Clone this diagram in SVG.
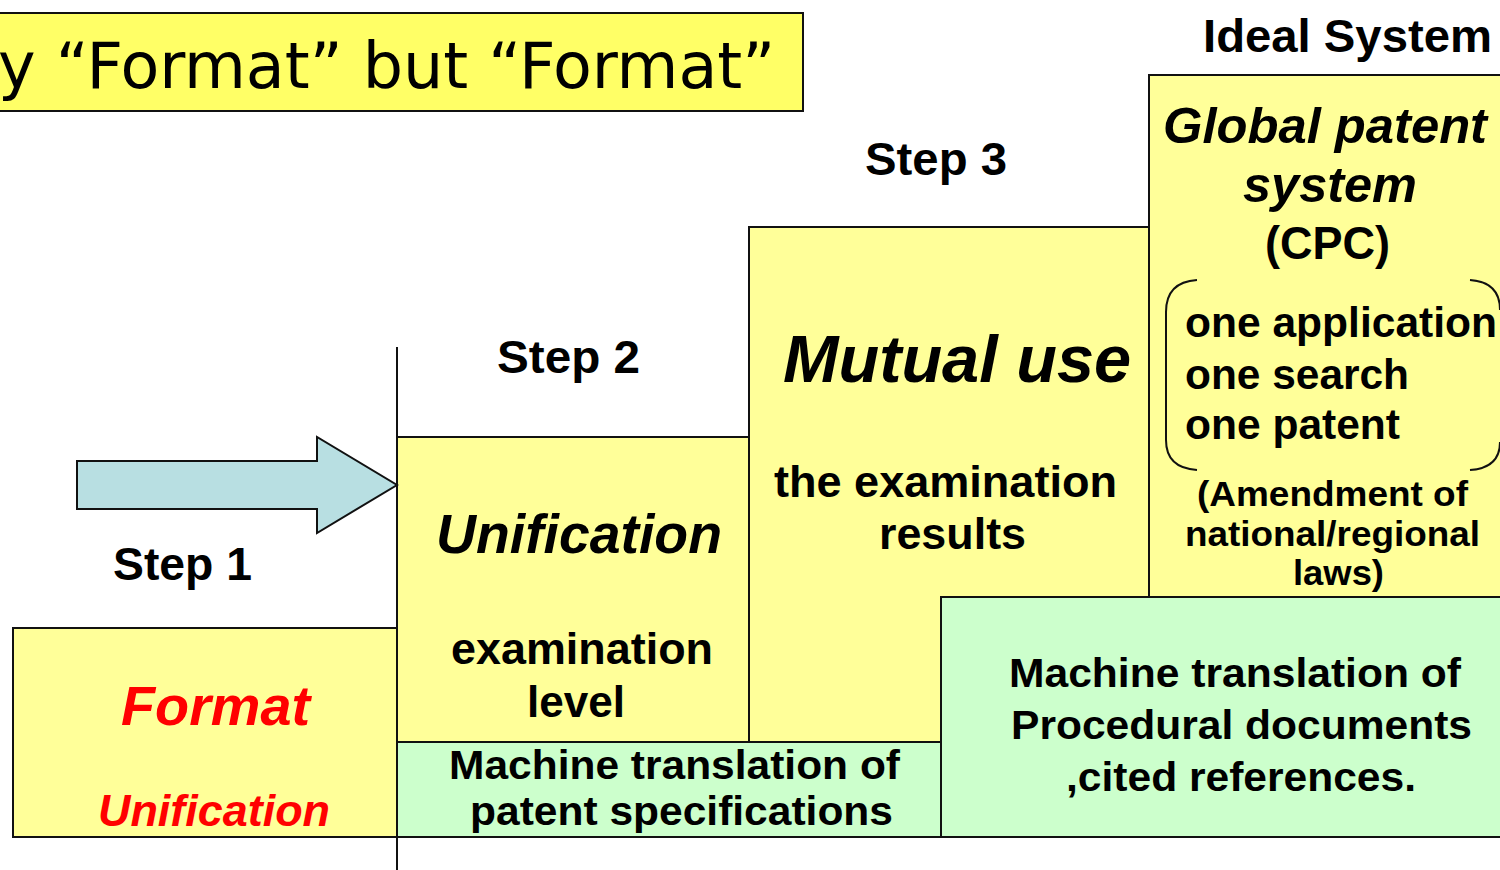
<svg xmlns="http://www.w3.org/2000/svg" width="1500" height="870" viewBox="0 0 1500 870">
<style>
.box{stroke:#111;stroke-width:2}
.y{fill:#FFFF99}
.g{fill:#CCFFCC}
.t{font-family:"Liberation Sans",Arial,sans-serif;font-weight:bold;fill:#000}
.i{font-style:italic}
.r{fill:#FF0000}
</style>
<rect width="1500" height="870" fill="#fff"/>
<g id="title">
<rect x="-5" y="13" width="808" height="98" fill="#FFFF66" class="box"/>
<text x="-2" y="88" font-family="'Liberation Sans Narrow','DejaVu Sans Condensed','Liberation Sans',sans-serif" font-size="64" textLength="777" lengthAdjust="spacingAndGlyphs">y “Format” but “Format”</text>
</g>
<g id="ideal">
<text class="t" x="1203" y="52" font-size="47" textLength="289" lengthAdjust="spacingAndGlyphs">Ideal System</text>
<rect x="1149" y="75" width="360" height="522" class="box y"/>
<text class="t i" x="1163" y="143" font-size="50" textLength="324" lengthAdjust="spacingAndGlyphs">Global patent</text>
<text class="t i" x="1243" y="202" font-size="50" textLength="174" lengthAdjust="spacingAndGlyphs">system</text>
<text class="t" x="1265" y="259" font-size="46" textLength="125" lengthAdjust="spacingAndGlyphs">(CPC)</text>
<path d="M1197,280 Q1166,282 1166,312 L1166,440 Q1166,468 1197,470 M1470,280 Q1500,282 1500,310 M1500,442 Q1500,468 1470,470" fill="none" stroke="#111" stroke-width="2"/>
<text class="t" x="1185" y="337" font-size="42.5" textLength="312" lengthAdjust="spacingAndGlyphs">one application</text>
<text class="t" x="1185" y="389" font-size="42.5" textLength="224" lengthAdjust="spacingAndGlyphs">one search</text>
<text class="t" x="1185" y="439" font-size="42.5" textLength="215" lengthAdjust="spacingAndGlyphs">one patent</text>
<text class="t" x="1197" y="506" font-size="35" textLength="271" lengthAdjust="spacingAndGlyphs">(Amendment of</text>
<text class="t" x="1185" y="546" font-size="35" textLength="295" lengthAdjust="spacingAndGlyphs">national/regional</text>
<text class="t" x="1293" y="585" font-size="35" textLength="91" lengthAdjust="spacingAndGlyphs">laws)</text>
</g>
<g id="step3">
<text class="t" x="865" y="175" font-size="46" textLength="142" lengthAdjust="spacingAndGlyphs">Step 3</text>
<rect x="749" y="227" width="400" height="515" class="box y"/>
<text class="t i" x="783" y="382" font-size="66" textLength="348" lengthAdjust="spacingAndGlyphs">Mutual use</text>
<text class="t" x="774" y="497" font-size="44" textLength="343" lengthAdjust="spacingAndGlyphs">the examination</text>
<text class="t" x="879" y="549" font-size="44" textLength="147" lengthAdjust="spacingAndGlyphs">results</text>
</g>
<g id="step2">
<text class="t" x="497" y="373" font-size="46" textLength="143" lengthAdjust="spacingAndGlyphs">Step 2</text>
<rect x="397" y="437" width="352" height="305" class="box y"/>
<text class="t i" x="436" y="553" font-size="55" textLength="286" lengthAdjust="spacingAndGlyphs">Unification</text>
<text class="t" x="451" y="664" font-size="44.5" textLength="262" lengthAdjust="spacingAndGlyphs">examination</text>
<text class="t" x="527" y="717" font-size="44.5" textLength="98" lengthAdjust="spacingAndGlyphs">level</text>
</g>
<g id="mt1">
<rect x="397" y="742" width="544" height="95" class="box g"/>
<text class="t" x="449" y="779" font-size="41" textLength="451" lengthAdjust="spacingAndGlyphs">Machine translation of</text>
<text class="t" x="470" y="825" font-size="41" textLength="423" lengthAdjust="spacingAndGlyphs">patent specifications</text>
</g>
<g id="mt2">
<rect x="941" y="597" width="570" height="240" class="box g"/>
<text class="t" x="1009" y="687" font-size="41" textLength="452" lengthAdjust="spacingAndGlyphs">Machine translation of</text>
<text class="t" x="1011" y="739" font-size="41" textLength="461" lengthAdjust="spacingAndGlyphs">Procedural documents</text>
<text class="t" x="1066" y="791" font-size="41" textLength="350" lengthAdjust="spacingAndGlyphs">,cited references.</text>
</g>
<g id="step1">
<text class="t" x="113" y="580" font-size="46" textLength="139" lengthAdjust="spacingAndGlyphs">Step 1</text>
<rect x="13" y="628" width="384" height="209" class="box y"/>
<text class="t i r" x="121" y="725" font-size="56" textLength="189" lengthAdjust="spacingAndGlyphs">Format</text>
<text class="t i r" x="98" y="826" font-size="45" textLength="232" lengthAdjust="spacingAndGlyphs">Unification</text>
</g>
<g id="connectors">
<line x1="397" y1="347" x2="397" y2="870" stroke="#111" stroke-width="2"/>
<path d="M77,461 L317,461 L317,437 L397,485 L317,533 L317,509 L77,509 Z" fill="#B8DFE2" stroke="#111" stroke-width="2"/>
</g>
</svg>
